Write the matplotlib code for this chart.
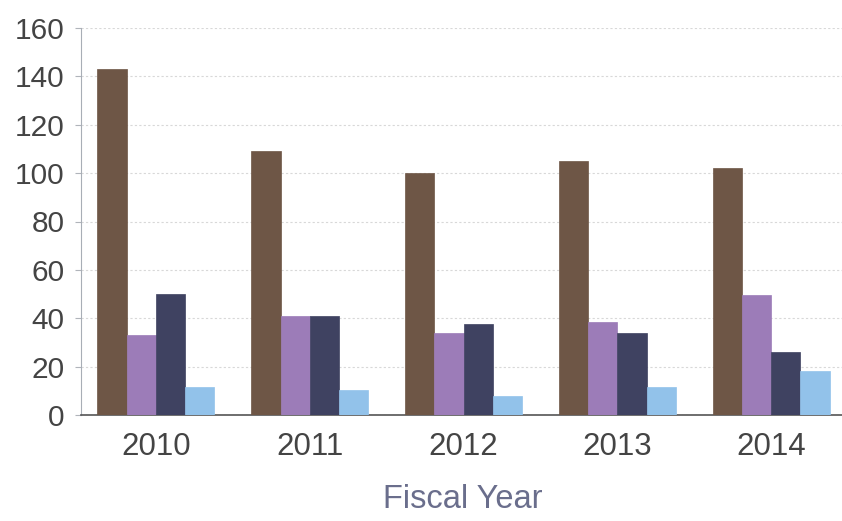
import matplotlib
matplotlib.use("Agg")
import matplotlib.pyplot as plt
import numpy as np

years = ["2010", "2011", "2012", "2013", "2014"]
series_a = [143, 109, 100, 105, 102]   # brown
series_b = [33, 41, 34, 38.5, 49.5]    # purple
series_c = [50, 41, 37.5, 34, 26]      # dark navy
series_d = [11.5, 10.5, 8, 11.5, 18]   # light blue
yticks = [0, 20, 40, 60, 80, 100, 120, 140, 160]

colors = ["#6e5646", "#9c7cb8", "#3f4261", "#92c2ea"]

plt.rcParams['font.family'] = ['Liberation Sans', 'DejaVu Sans']

fig = plt.figure(figsize=(8.42, 5.21), dpi=100)
ax = fig.add_axes([81/842, 1-415/521, 1-81/842, (415-28)/521])

x = np.arange(len(years))
w = 0.19
for i, (vals, c) in enumerate(zip([series_a, series_b, series_c, series_d], colors)):
    ax.bar(x + (i - 1.5) * w, vals, width=w, color=c, edgecolor=c, linewidth=0.5, zorder=3)

ax.set_xlim(-0.487, 4.46)
ax.set_ylim(0, 160)
ax.set_yticks(yticks)
ax.set_xticks(x)
ax.set_xticklabels(years)

ax.grid(axis='y', color='#d8d8d8', linestyle=(0, (2, 2)), linewidth=0.8, zorder=0)
for s in ['top', 'right']:
    ax.spines[s].set_visible(False)
ax.spines['left'].set_color('#a8aeb6')
ax.spines['bottom'].set_color('#555555')
ax.spines['bottom'].set_linewidth(1.2)

ax.tick_params(axis='y', length=4, color='#b0b4ba', labelsize=21.5, labelcolor='#444444', pad=8)
ax.tick_params(axis='x', length=0, labelsize=22.5, labelcolor='#444444', pad=12)

fig.text(463/842, 1-500/521, "Fiscal Year", ha='center', va='center', fontsize=23.5, color='#6a6e8c')

fig.savefig("out.png", dpi=100)
